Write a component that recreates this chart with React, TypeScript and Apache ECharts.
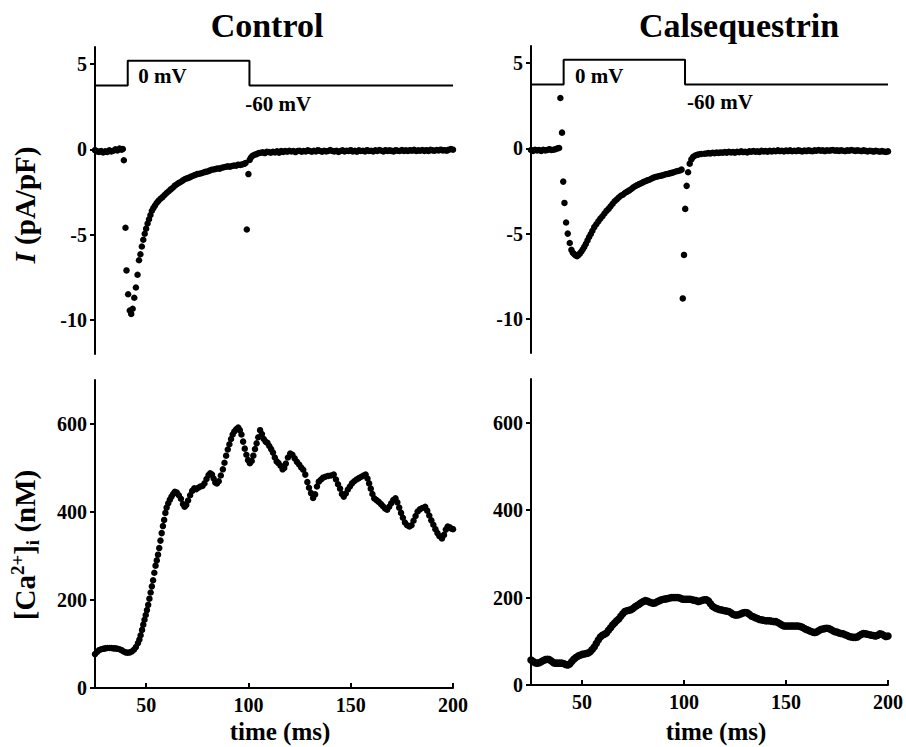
import React, { useEffect, useRef } from "react";
import * as echarts from "echarts";

const FONT = '"Liberation Serif", "Times New Roman", serif';

// ---- Data ----
// Voltage command trace (plotted in current-axis units)
const stepTimes = [25, 41, 41, 100.5, 100.5, 200];
const stepLevels = [3.75, 3.75, 5.2, 5.2, 3.75, 3.75];

// Control: membrane current I (pA/pF) vs time (ms)
const ctrlCurrent: [number, number][] = [
  [25,-0.05],[26,-0.12],[27,-0.15],[28,-0.1],[29,-0.18],[30,-0.12],[31,-0.15],[32,-0.06],[33,-0.12],[34,-0.08],
  [35,0.0],[36,-0.06],[37,0.05],[38,-0.02],[38.6,0.02],
  [39.1,-0.64],[39.9,-4.6],[40.4,-7.1],[41.2,-8.5],[42.0,-9.45],[42.7,-9.65],[43.4,-9.35],[44.2,-8.7],[45.0,-8.1],
  [45.8,-7.35],[46.5,-6.5],[47.2,-6.15],[47.9,-5.7],[48.6,-5.3],[49.3,-4.95],[50.0,-4.65],[50.7,-4.35],[51.4,-4.1],
  [52.1,-3.85],[52.8,-3.6],[53.5,-3.45],[54.3,-3.3],[55.1,-3.15],[56,-3.02],[57,-2.9],[58,-2.8],[59,-2.68],[60,-2.56],
  [61,-2.46],[62,-2.35],[63,-2.25],[64,-2.13],[65,-2.05],[66,-1.97],[67,-1.9],[68,-1.82],[69,-1.74],[70,-1.7],
  [71,-1.66],[72,-1.6],[73,-1.55],[74,-1.5],[75,-1.45],[76,-1.43],[77,-1.4],[78,-1.36],[79,-1.32],[80,-1.3],
  [81,-1.25],[82,-1.2],[83,-1.18],[84,-1.15],[85,-1.12],[86,-1.13],[87,-1.08],[88,-1.05],[89,-1.02],[90,-1.0],
  [91,-1.02],[92,-0.98],[93,-0.95],[94,-0.96],[95,-0.9],[96,-0.92],[97,-0.88],[98,-0.85],[98.6,-0.8],
  [99.2,-4.7],[100.0,-1.45],[100.6,-0.62],[101.2,-0.48],[102,-0.38],[103,-0.32],[104,-0.28],[105,-0.22],[106,-0.2],
  [107,-0.18],[108,-0.22],[109,-0.15],[110,-0.16],
  [111,-0.2],[112,-0.14],[113,-0.18],[114,-0.12],[115,-0.2],[116,-0.1],[117,-0.15],[118,-0.1],[119,-0.14],[120,-0.08],
  [121,-0.13],[122,-0.1],[123,-0.16],[124,-0.1],[125,-0.08],[126,-0.14],[127,-0.1],[128,-0.12],[129,-0.06],[130,-0.1],
  [131,-0.14],[132,-0.08],[133,-0.12],[134,-0.05],[135,-0.1],[136,-0.14],[137,-0.08],[138,-0.12],[139,-0.1],[140,-0.04],
  [141,-0.1],[142,-0.12],[143,-0.08],[144,-0.15],[145,-0.1],[146,-0.06],[147,-0.12],[148,-0.08],[149,-0.1],[150,-0.05],
  [151,-0.12],[152,-0.08],[153,-0.14],[154,-0.06],[155,-0.1],[156,-0.08],[157,-0.12],[158,-0.05],[159,-0.1],[160,-0.08],
  [161,-0.12],[162,-0.06],[163,-0.1],[164,-0.04],[165,-0.08],[166,-0.12],[167,-0.05],[168,-0.1],[169,-0.06],[170,-0.09],
  [171,-0.12],[172,-0.05],[173,-0.08],[174,-0.1],[175,-0.04],[176,-0.09],[177,-0.06],[178,-0.1],[179,-0.05],[180,-0.08],
  [181,-0.03],[182,-0.1],[183,-0.06],[184,-0.08],[185,-0.04],[186,-0.09],[187,-0.05],[188,-0.1],[189,-0.03],[190,-0.06],
  [191,-0.08],[192,-0.04],[193,-0.07],[194,-0.02],[195,-0.06],[196,-0.05],[197,-0.08],[198,-0.02],[199,0.02],[200,-0.02],
];

// Calsequestrin: membrane current I (pA/pF) vs time (ms)
const csqCurrent: [number, number][] = [
  [25,-0.1],[26,-0.15],[27,-0.08],[28,-0.12],[29,-0.1],[30,-0.15],[31,-0.08],[32,-0.12],[33,-0.1],[34,-0.05],
  [35,-0.1],[36,-0.08],[37,-0.05],[38,0.0],[38.8,0.02],
  [39.4,2.95],[40.2,0.92],[40.8,-1.95],[41.4,-3.2],[42.2,-4.35],[43.0,-5.0],[44.0,-5.55],[44.8,-5.95],[45.5,-6.12],
  [46.2,-6.2],[46.9,-6.28],[47.6,-6.32],[48.3,-6.25],[49.0,-6.15],[49.7,-6.05],[50.4,-5.92],[51.1,-5.78],[51.9,-5.6],
  [52.7,-5.4],[53.5,-5.2],[54.3,-5.02],[55.1,-4.83],[56,-4.62],[57,-4.45],[58,-4.28],[59,-4.12],[60,-3.98],
  [61,-3.82],[62,-3.67],[63,-3.55],[64,-3.4],[65,-3.25],[66,-3.1],[67,-3.0],[68,-2.88],[69,-2.78],[70,-2.72],
  [71,-2.62],[72,-2.55],[73,-2.48],[74,-2.4],[75,-2.3],[76,-2.22],[77,-2.16],[78,-2.1],[79,-2.05],[80,-1.98],
  [81,-1.93],[82,-1.88],[83,-1.84],[84,-1.78],[85,-1.72],[86,-1.68],[87,-1.65],[88,-1.62],[89,-1.6],[90,-1.56],
  [91,-1.52],[92,-1.5],[93,-1.47],[94,-1.44],[95,-1.4],[96,-1.36],[97,-1.33],[98,-1.3],[98.8,-1.25],
  [99.4,-8.8],[100.0,-6.25],[100.6,-3.55],[101.3,-2.2],[102.0,-1.4],[102.8,-0.9],[103.6,-0.65],[104.5,-0.5],
  [105.5,-0.42],[106.5,-0.38],[107.5,-0.35],[108.5,-0.33],[110,-0.32],
  [111,-0.3],[112,-0.28],[113,-0.3],[114,-0.26],[115,-0.28],[116,-0.25],[117,-0.27],[118,-0.24],[119,-0.26],[120,-0.22],
  [121,-0.25],[122,-0.2],[123,-0.24],[124,-0.22],[125,-0.25],[126,-0.2],[127,-0.23],[128,-0.18],[129,-0.22],[130,-0.2],
  [131,-0.24],[132,-0.18],[133,-0.2],[134,-0.16],[135,-0.2],[136,-0.18],[137,-0.21],[138,-0.15],[139,-0.18],[140,-0.16],
  [141,-0.2],[142,-0.14],[143,-0.18],[144,-0.15],[145,-0.17],[146,-0.12],[147,-0.16],[148,-0.14],[149,-0.18],[150,-0.13],
  [151,-0.16],[152,-0.12],[153,-0.17],[154,-0.14],[155,-0.16],[156,-0.12],[157,-0.15],[158,-0.18],[159,-0.13],[160,-0.16],
  [161,-0.12],[162,-0.15],[163,-0.17],[164,-0.12],[165,-0.14],[166,-0.1],[167,-0.14],[168,-0.12],[169,-0.16],[170,-0.11],
  [171,-0.14],[172,-0.12],[173,-0.1],[174,-0.14],[175,-0.12],[176,-0.15],[177,-0.11],[178,-0.14],[179,-0.16],[180,-0.12],
  [181,-0.14],[182,-0.1],[183,-0.13],[184,-0.15],[185,-0.12],[186,-0.14],[187,-0.16],[188,-0.12],[189,-0.15],[190,-0.18],
  [191,-0.14],[192,-0.16],[193,-0.19],[194,-0.15],[195,-0.17],[196,-0.2],[197,-0.16],[198,-0.19],[199,-0.21],[200,-0.18],
];

// Control: [Ca2+]i (nM) vs time (ms)
const ctrlCa: [number, number][] = [
  [25,77],[26,82],[27,86],[28,88],[29,89],[30,90],[31,91],[32,91],[33,91],[34,90],[35,90],[36,89],[37,88],[38,86],
  [39,83],[40,81],[41,80],[42,81],[43,83],[44,87],[45,93],[46,102],[46.7,110],[47.3,120],[48,132],[48.6,144],
  [49.2,155],[49.8,166],[50.4,177],[51,189],[51.6,203],[52.2,217],[52.8,231],[53.4,245],[54,262],[54.6,278],
  [55.2,290],[55.8,303],[56.4,318],[57,335],[57.6,352],[58.2,368],[58.8,382],[59.4,398],[60,410],[60.8,420],
  [61.6,428],[62.4,435],[63.2,441],[64,446],[65,444],[66,438],[67,430],[68,418],[68.8,412],[69.6,416],[70.5,426],
  [71.5,438],[72.5,448],[73.5,454],[74.5,452],[75.5,455],[76.5,458],[77.5,459],[78.5,465],[79.5,475],[80.5,484],
  [81.3,488],[82.2,485],[83,476],[83.8,467],[84.6,465],[85.5,470],[86.5,483],[87.5,497],[88.3,512],[89.1,528],
  [89.9,542],[90.7,554],[91.5,566],[92.3,576],[93.1,583],[94,588],[95,592],[95.8,586],[96.6,576],[97.4,560],
  [98.2,544],[99,530],[99.8,518],[100.7,511],[101.6,516],[102.4,528],[103.2,543],[104,556],[104.8,570],[105.7,586],
  [106.6,577],[107.5,566],[108.4,560],[109.3,557],[110.2,550],[111.1,543],[112,535],[112.9,524],[113.8,515],
  [114.7,511],[115.7,505],[116.7,497],[117.5,500],[118.3,510],[119.3,524],[120.4,533],[121.5,530],[122.6,522],
  [123.7,514],[124.8,508],[125.8,501],[126.8,496],[127.8,485],[128.8,468],[129.6,455],[130.6,443],[131.6,432],
  [132.6,440],[133.5,458],[134.4,469],[135.5,474],[136.5,478],[137.6,480],[139,482],[140.4,483],[141.7,485],
  [142.8,474],[143.8,463],[144.8,453],[145.7,441],[146.6,435],[147.6,442],[148.6,451],[149.6,458],[150.6,465],
  [151.7,470],[152.8,474],[154,477],[155.2,480],[156.3,483],[157.3,485],[158.2,476],[159,465],[159.8,453],
  [160.6,441],[161.5,431],[162.6,427],[163.7,423],[164.8,418],[165.8,413],[166.8,408],[167.8,405],[168.8,412],
  [169.8,420],[170.8,427],[171.9,431],[172.8,422],[173.7,410],[174.6,398],[175.5,387],[176.5,376],[177.6,370],
  [178.7,367],[179.7,370],[180.7,380],[181.7,391],[182.7,401],[183.8,406],[185,409],[186.4,412],[187.4,403],
  [188.4,392],[189.4,381],[190.4,371],[191.4,361],[192.4,352],[193.4,345],[194.6,340],[195.6,348],[196.5,360],
  [197.4,367],[198.4,365],[199.3,362],[200,361],
];

// Calsequestrin: [Ca2+]i (nM), sampled every 1 ms from 25 to 200 ms
const csqCaStart = 25;
const csqCaValues = [
  57,54,51,50,51,53,56,58,59,58,55,51,50,50,50,50,49,47,46,48,
  54,59,63,66,68,70,71,72,73,76,81,87,95,103,110,114,116,119,125,131,
  137,142,147,151,157,163,168,170,171,172,175,179,182,185,188,191,193,192,190,188,
  187,188,191,193,195,196,197,198,199,200,200,200,200,199,197,196,196,196,196,195,
  194,193,191,192,194,195,195,192,186,180,177,175,173,172,171,170,169,168,165,162,
  160,160,161,163,165,166,165,162,158,156,154,152,150,149,148,147,147,147,146,145,
  145,143,140,137,135,135,135,135,135,135,135,135,134,132,129,127,125,123,121,120,
  121,124,127,128,129,130,129,127,124,122,121,119,118,117,115,113,111,110,109,109,
  110,113,116,118,117,116,115,114,113,112,114,117,116,113,111,112,
];

const xTicks = [50, 100, 150, 200];
const iTicks = [-10, -5, 0, 5];
const caTicks = [0, 200, 400, 600];

const ctrlVoltLabels = [
  { t: 46.1, v: 4.3, text: "0 mV" },
  { t: 98.5, v: 2.67, text: "-60 mV" },
];
const csqVoltLabels = [
  { t: 46.6, v: 4.25, text: "0 mV" },
  { t: 101.5, v: 2.72, text: "-60 mV" },
];

const panelTitles = ["Control", "Calsequestrin"];

export default function App() {
  const ref = useRef<HTMLDivElement>(null);

  useEffect(() => {
    if (!ref.current) return;
    const chart = echarts.init(ref.current, undefined, { renderer: "svg" });

    const stepData = stepTimes.map((t, i) => [t, stepLevels[i]]);
    const csqCa = csqCaValues.map((v, i) => [csqCaStart + i, v]);

    const axisLine = { show: true, onZero: false, lineStyle: { color: "#000", width: 2 } };
    const tickLabel = (vals: number[], margin: number) => ({
      show: true,
      customValues: vals,
      color: "#000",
      fontFamily: FONT,
      fontWeight: "bold",
      fontSize: 20,
      margin,
    });

    const topX = (g: number) => ({
      type: "value", gridIndex: g, min: 25, max: 200, show: false,
    });
    const botX = (g: number) => ({
      type: "value", gridIndex: g, min: 25, max: 200,
      axisLine,
      axisTick: { show: true, inside: true, length: 5, customValues: xTicks, lineStyle: { color: "#000", width: 2 } },
      axisLabel: tickLabel(xTicks, 7),
      splitLine: { show: false },
    });
    const yAx = (g: number, min: number, max: number, ticks: number[]) => ({
      type: "value", gridIndex: g, min, max,
      axisLine,
      axisTick: { show: true, inside: false, length: 5, customValues: ticks, lineStyle: { color: "#000", width: 2 } },
      axisLabel: tickLabel(ticks, 8),
      splitLine: { show: false },
    });

    const dots = (data: number[][], axis: number, size: number) => ({
      type: "scatter", xAxisIndex: axis, yAxisIndex: axis, data,
      symbol: "circle", symbolSize: size,
      itemStyle: { color: "#000", opacity: 1 }, silent: true,
    });
    const step = (axis: number) => ({
      type: "line", xAxisIndex: axis, yAxisIndex: axis, data: stepData,
      showSymbol: false, symbol: "none",
      lineStyle: { color: "#000", width: 2 }, silent: true,
    });
    const vLabels = (labels: { t: number; v: number; text: string }[], axis: number) => ({
      type: "scatter", xAxisIndex: axis, yAxisIndex: axis, symbolSize: 0,
      itemStyle: { color: "#fff", opacity: 1 }, silent: true,
      data: labels.map((l) => ({ value: [l.t, l.v], name: l.text })),
      label: {
        show: true, position: [0, 0], align: "left", verticalAlign: "middle", opacity: 1,
        formatter: "{b}", color: "#000", fontFamily: FONT, fontWeight: "bold", fontSize: 21,
      },
    });

    const richBase = { fontFamily: FONT, fontWeight: "bold", fontSize: 29, color: "#000" };

    chart.setOption({
      animation: false,
      backgroundColor: "#fff",
      grid: [
        { left: 95, top: 47, width: 358, height: 307 },
        { left: 531, top: 46, width: 357, height: 307 },
        { left: 95, top: 380, width: 358, height: 308 },
        { left: 531, top: 379, width: 357, height: 306 },
      ],
      xAxis: [topX(0), topX(1), botX(2), botX(3)],
      yAxis: [
        yAx(0, -12, 6, iTicks),
        yAx(1, -12, 6, iTicks),
        yAx(2, 0, 700, caTicks),
        yAx(3, 0, 700, caTicks),
      ],
      series: [
        step(0),
        dots(ctrlCurrent, 0, 6.5),
        vLabels(ctrlVoltLabels, 0),
        step(1),
        dots(csqCurrent, 1, 6.5),
        vLabels(csqVoltLabels, 1),
        dots(ctrlCa, 2, 6.5),
        dots(csqCa, 3, 7.5),
      ],
      graphic: [
        {
          type: "text", x: 267, y: 25,
          style: { text: panelTitles[0], fontFamily: FONT, fontWeight: "bold", fontSize: 34, fill: "#000", align: "center", verticalAlign: "middle" },
        },
        {
          type: "text", x: 739, y: 25,
          style: { text: panelTitles[1], fontFamily: FONT, fontWeight: "bold", fontSize: 34, fill: "#000", align: "center", verticalAlign: "middle" },
        },
        {
          type: "text", x: 25, y: 205, rotation: Math.PI / 2,
          style: {
            text: "{it|I} {n|(pA/pF)}",
            align: "center", verticalAlign: "middle",
            fontFamily: FONT, fontWeight: "bold", fontSize: 29, fill: "#000",
            rich: {
              it: { ...richBase, fontStyle: "italic" },
              n: { ...richBase },
            },
          },
        },
        {
          type: "text", x: 25, y: 545, rotation: Math.PI / 2,
          style: {
            text: "{n|[Ca}{sup|2+}{n|]}{sub|i}{n| (nM)}",
            align: "center", verticalAlign: "middle",
            fontFamily: FONT, fontWeight: "bold", fontSize: 29, fill: "#000",
            rich: {
              n: { ...richBase, lineHeight: 34 },
              sup: { ...richBase, fontSize: 19, verticalAlign: "top", lineHeight: 19 },
              sub: { ...richBase, fontSize: 19, verticalAlign: "bottom", lineHeight: 19 },
            },
          },
        },
        {
          type: "text", x: 280, y: 731,
          style: { text: "time (ms)", fontFamily: FONT, fontWeight: "bold", fontSize: 25, fill: "#000", align: "center", verticalAlign: "middle" },
        },
        {
          type: "text", x: 716, y: 731,
          style: { text: "time (ms)", fontFamily: FONT, fontWeight: "bold", fontSize: 25, fill: "#000", align: "center", verticalAlign: "middle" },
        },
      ],
    });

    return () => chart.dispose();
  }, []);

  return (
    <div
      ref={ref}
      style={{ position: "absolute", left: 0, top: 0, width: 906, height: 747 }}
    />
  );
}
